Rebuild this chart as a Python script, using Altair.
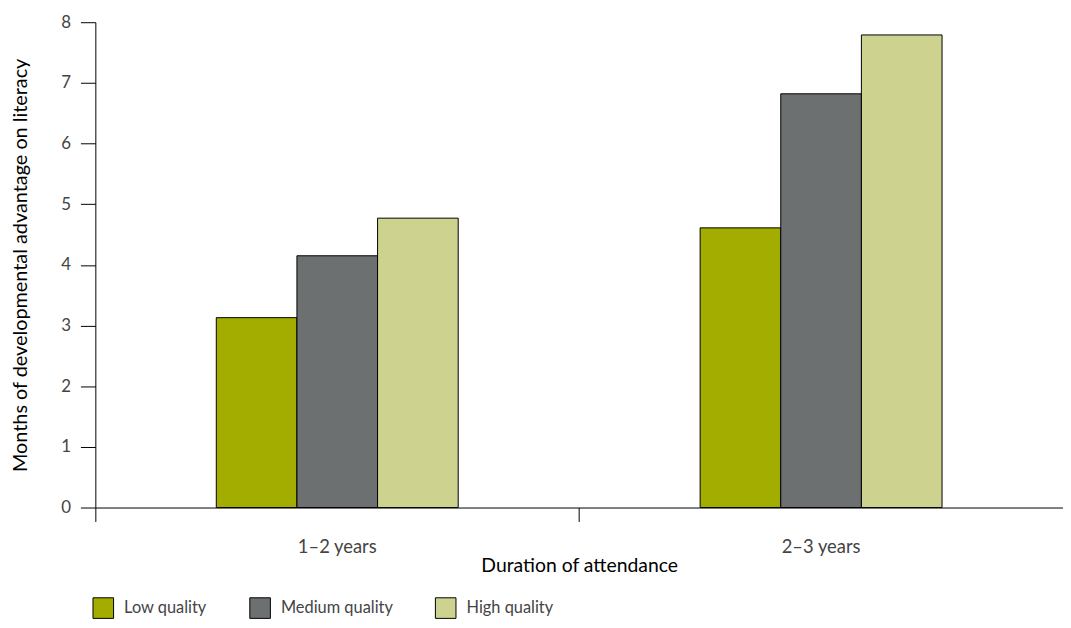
import altair as alt
import pandas as pd

durations = ["1–2 years", "2–3 years"]
qualities = ["Low quality", "Medium quality", "High quality"]
low_values = [3.13, 4.61]
medium_values = [4.15, 6.82]
high_values = [4.77, 7.79]
colors = ["#a2ad00", "#6c7070", "#cdd38f"]

rows = []
for i, d in enumerate(durations):
    for q, vals in zip(qualities, [low_values, medium_values, high_values]):
        rows.append({"duration": d, "quality": q, "value": vals[i]})
df = pd.DataFrame(rows)

FONT = "Lato"

offset_domain = ["_pad_left"] + qualities + ["_pad_right"]

chart = alt.Chart(df).mark_bar(stroke="black", strokeWidth=1).encode(
    x=alt.X(
        "duration:N",
        sort=durations,
        scale=alt.Scale(paddingInner=0, paddingOuter=0),
        axis=alt.Axis(
            title="Duration of attendance",
            labelAngle=0,
            bandPosition=0,
            tickSize=14,
            tickColor="black",
            domainColor="black",
            labelColor="#444444",
            labelFontSize=18.5,
            labelFont=FONT,
            labelPadding=16,
            titleFont=FONT,
            titleFontSize=19.5,
            titleFontWeight="normal",
            titleColor="black",
            titlePadding=1,
        ),
    ),
    xOffset=alt.XOffset(
        "quality:N",
        scale=alt.Scale(domain=offset_domain, paddingInner=0, paddingOuter=0.5),
    ),
    y=alt.Y(
        "value:Q",
        scale=alt.Scale(domain=[0, 8], nice=False),
        axis=alt.Axis(
            title="Months of developmental advantage on literacy",
            values=[0, 1, 2, 3, 4, 5, 6, 7, 8],
            format="d",
            grid=False,
            tickSize=15,
            tickColor="black",
            domainColor="black",
            labelColor="#444444",
            labelFontSize=17,
            labelFont=FONT,
            labelPadding=10,
            titleFont=FONT,
            titleFontSize=20,
            titleFontWeight="normal",
            titleColor="black",
            titlePadding=30,
        ),
    ),
    color=alt.Color(
        "quality:N",
        sort=qualities,
        scale=alt.Scale(domain=qualities, range=colors),
        legend=alt.Legend(
            title=None,
            orient="none",
            direction="horizontal",
            legendX=-3,
            legendY=579,
            symbolType="square",
            symbolSize=430,
            symbolStrokeColor="black",
            symbolStrokeWidth=1,
            symbolOpacity=1,
            labelFont=FONT,
            labelFontSize=16.5,
            labelColor="#444444",
            labelOffset=10,
            columnPadding=40,
        ),
    ),
).properties(
    width=975,
    height=489,
    autosize="none",
    padding={"left": 88, "top": 12, "right": 0, "bottom": 111},
).configure_view(stroke=None)

chart.save("out.html", embed_options={"renderer": "svg", "actions": False})
